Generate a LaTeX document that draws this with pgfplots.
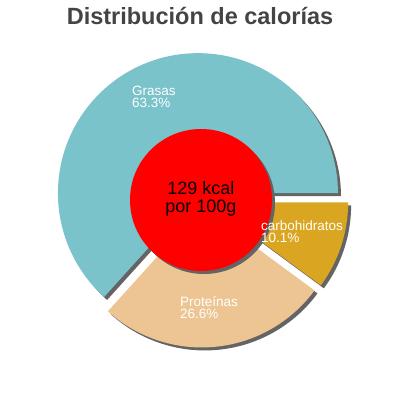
\documentclass[border=0pt]{standalone}
\usepackage{pgfplots}
\pgfplotsset{compat=1.18}
\usepackage{pgfplotstable}
\usepackage{fontspec}
\setmainfont{Liberation Sans}

\definecolor{grasas}{RGB}{122,195,203}
\definecolor{prot}{RGB}{237,197,146}
\definecolor{carbo}{RGB}{218,165,32}
\definecolor{shadow}{RGB}{100,100,100}
\definecolor{titlegray}{RGB}{68,68,68}

% share of calories per nutrient, in percent
\pgfplotstableread{
label value
Grasas 63.3
Proteinas 26.6
carbohidratos 10.1
}\caltable

\pgfplotstablegetelem{0}{value}\of\caltable \let\vA\pgfplotsretval
\pgfplotstablegetelem{1}{value}\of\caltable \let\vB\pgfplotsretval
\pgfplotstablegetelem{2}{value}\of\caltable \let\vC\pgfplotsretval

% slice angles and explode offsets (7.5 units along the mid angle)
\pgfmathsetmacro\aA{0}
\pgfmathsetmacro\aB{3.6*\vA}
\pgfmathsetmacro\aC{3.6*(\vA+\vB)}
\pgfmathsetmacro\aD{360}
\pgfmathsetmacro\cx{201}
\pgfmathsetmacro\cy{200}
\pgfmathsetmacro\R{140}
\pgfmathsetmacro\ex{7.5}
\pgfmathsetmacro\oAx{\cx+\ex*cos((\aA+\aB)/2)}
\pgfmathsetmacro\oAy{\cy+\ex*sin((\aA+\aB)/2)}
\pgfmathsetmacro\oBx{\cx+\ex*cos((\aB+\aC)/2)}
\pgfmathsetmacro\oBy{\cy+\ex*sin((\aB+\aC)/2)}
\pgfmathsetmacro\oCx{\cx+\ex*cos((\aC+\aD)/2)}
\pgfmathsetmacro\oCy{\cy+\ex*sin((\aC+\aD)/2)}

\tikzset{slicelabel/.style={anchor=base west, text=white, inner sep=0pt,
    font=\fontsize{13.5}{13.5}\selectfont}}

\begin{document}
\begin{tikzpicture}
\path[use as bounding box] (0,0) rectangle (400pt,400pt);
\begin{axis}[
    x=1pt, y=1pt,
    xmin=0, xmax=400, ymin=0, ymax=400,
    hide axis, clip=false,
]
% shadows
\fill[shadow] (\oAx+3,\oAy-3) -- ++(\aA:\R) arc[start angle=\aA, end angle=\aB, radius=\R] -- cycle;
\fill[shadow] (\oBx+3,\oBy-3) -- ++(\aB:\R) arc[start angle=\aB, end angle=\aC, radius=\R] -- cycle;
\fill[shadow] (\oCx+3,\oCy-3) -- ++(\aC:\R) arc[start angle=\aC, end angle=\aD, radius=\R] -- cycle;
% slices
\fill[grasas] (\oAx,\oAy) -- ++(\aA:\R) arc[start angle=\aA, end angle=\aB, radius=\R] -- cycle;
\fill[prot] (\oBx,\oBy) -- ++(\aB:\R) arc[start angle=\aB, end angle=\aC, radius=\R] -- cycle;
\fill[carbo] (\oCx,\oCy) -- ++(\aC:\R) arc[start angle=\aC, end angle=\aD, radius=\R] -- cycle;
% centre disc
\fill[shadow] (\cx+3,\cy-3) circle[radius=71];
\fill[red] (\cx,\cy) circle[radius=71];

% labels
\node[slicelabel] at (132,304) {Grasas};
\node[slicelabel] at (132,292) {\vA\%};
\node[slicelabel] at (180,93) {Proteínas};
\node[slicelabel] at (180,81) {\vB\%};
\node[slicelabel] at (261,169) {carbohidratos};
\node[slicelabel] at (261,157) {\vC\%};

\node[anchor=base, font=\fontsize{18}{18}\selectfont, inner sep=0pt] at (201,205) {129 kcal};
\node[anchor=base, font=\fontsize{18}{18}\selectfont, inner sep=0pt] at (201,187) {por 100g};

\node[anchor=base, text=titlegray, font=\bfseries\fontsize{23.5}{23.5}\selectfont, inner sep=0pt] at (200,375) {Distribución de calorías};
\end{axis}
\end{tikzpicture}
\end{document}
